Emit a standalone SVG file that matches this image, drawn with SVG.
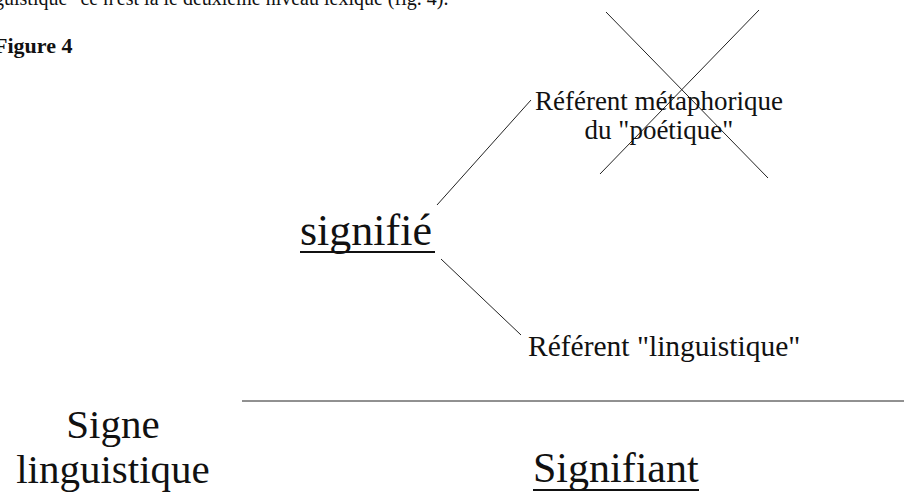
<svg xmlns="http://www.w3.org/2000/svg" width="904" height="501" viewBox="0 0 904 501">
<style>
  text { font-family: "Liberation Serif", "Times New Roman", serif; fill: #111; }
  .ln { stroke: #222; stroke-width: 1; fill: none; }
  .ul { stroke: #111; stroke-width: 1.8; }
</style>
<rect width="904" height="501" fill="#fff"/>
<g id="header">
  <text x="-6" y="5" font-size="20">guistique" ce n'est là le deuxième niveau lexique (fig. 4).</text>
  <text x="-6" y="53" font-size="22" font-weight="bold">Figure 4</text>
</g>
<g id="connectors">
  <line class="ln" x1="437" y1="205" x2="531" y2="100"/>
  <line class="ln" x1="441" y1="259" x2="521" y2="335"/>
  <line class="ln" x1="242" y1="401" x2="904" y2="401"/>
  <line class="ln" x1="606" y1="12" x2="768" y2="178"/>
  <line class="ln" x1="759" y1="10" x2="600" y2="174"/>
</g>
<g id="referent-metaphorique">
  <text x="659" y="110" font-size="27" text-anchor="middle">Référent métaphorique</text>
  <text x="659" y="139" font-size="27" text-anchor="middle">du "poétique"</text>
</g>
<g id="signifie">
  <text x="300" y="245" font-size="44">signifié</text>
  <line class="ul" x1="300" y1="252" x2="435" y2="252"/>
</g>
<g id="referent-linguistique">
  <text x="528" y="356" font-size="29.5">Référent "linguistique"</text>
</g>
<g id="signe">
  <text x="113" y="438" font-size="41" text-anchor="middle">Signe</text>
  <text x="113" y="483" font-size="41" text-anchor="middle">linguistique</text>
</g>
<g id="signifiant">
  <text x="533" y="482" font-size="42">Signifiant</text>
  <line class="ul" x1="533" y1="490" x2="699" y2="490"/>
</g>
</svg>
